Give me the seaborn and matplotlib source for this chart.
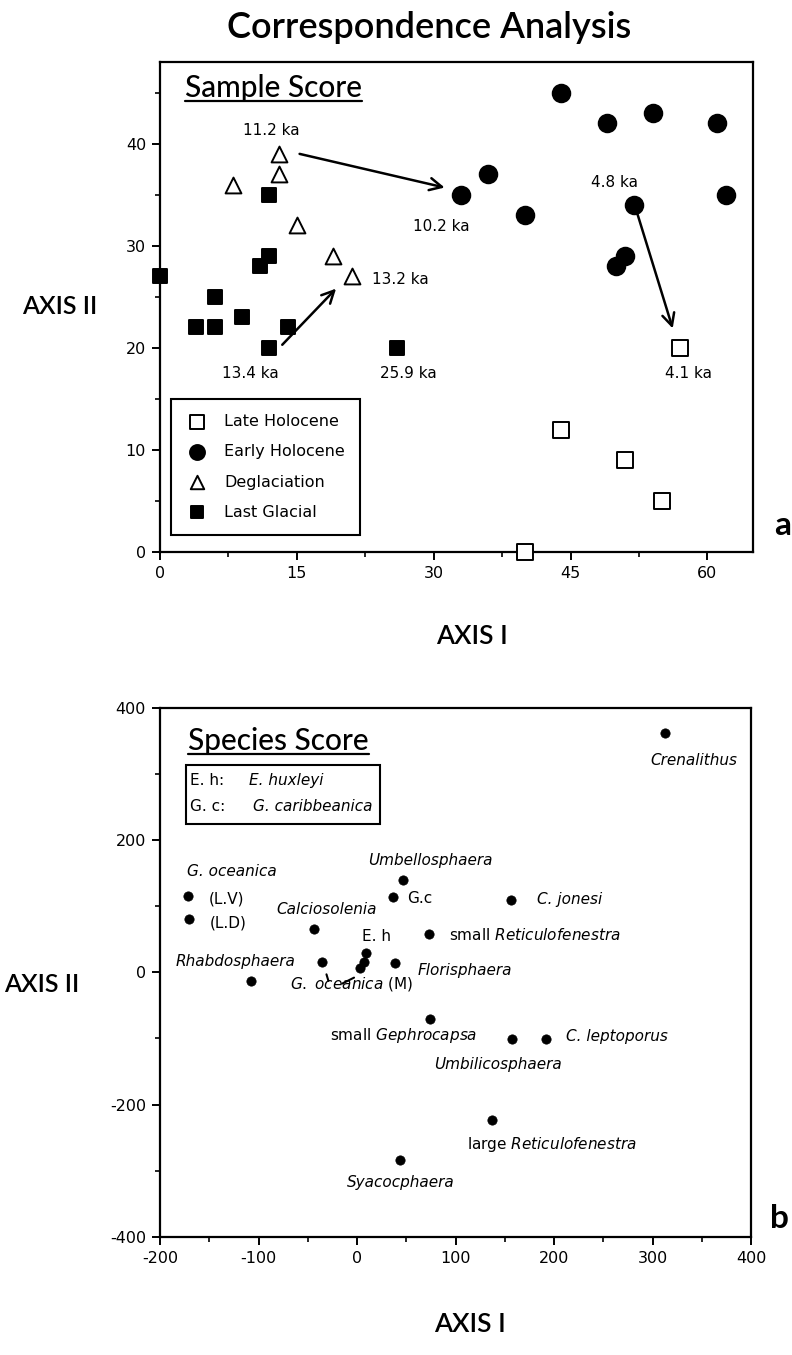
import matplotlib
matplotlib.use("Agg")
import matplotlib.pyplot as plt
import matplotlib.patches as mpatches
import seaborn as sns
import pandas as pd
from matplotlib.ticker import MultipleLocator

sns.set_style("ticks")
plt.rcParams["font.family"] = ["DejaVu Sans"]
plt.rcParams["mathtext.fontset"] = "dejavusans"
plt.rcParams["axes.unicode_minus"] = False
for k in ("text.color", "axes.labelcolor", "xtick.color", "ytick.color", "axes.edgecolor"):
    plt.rcParams[k] = "black"

# ---------------- Panel a data: sample scores ----------------
late_x = [57, 44, 51, 55, 40]
late_y = [20, 12, 9, 5, 0]
early_x = [33, 36, 40, 44, 49, 54, 61, 52, 62, 51, 50]
early_y = [35, 37, 33, 45, 42, 43, 42, 34, 35, 29, 28]
degl_x = [13, 13, 8, 15, 19, 21]
degl_y = [39, 37, 36, 32, 29, 27]
glac_x = [12, 12, 11, 0, 6, 9, 4, 6, 14, 12, 26]
glac_y = [35, 29, 28, 27, 25, 23, 22, 22, 22, 20, 20]
group_names = ["Late Holocene", "Early Holocene", "Deglaciation", "Last Glacial"]

# ---------------- Panel b data: species scores ----------------
species = ["Crenalithus", "G. oceanica (L.V)", "G. oceanica (L.D)", "Calciosolenia",
           "Rhabdosphaera", "G. oceanica (M) 1", "G. oceanica (M) 2", "G. oceanica (M) 3",
           "E. huxleyi", "Umbellosphaera", "G. caribbeanica", "C. jonesi",
           "small Reticulofenestra", "Florisphaera", "small Gephrocapsa",
           "Umbilicosphaera", "C. leptoporus", "large Reticulofenestra", "Syacocphaera"]
sp_x = [313, -172, -171, -44, -108, -36, 3, 7, 9, 47, 37, 156, 73, 39, 74, 157, 192, 137, 44]
sp_y = [362, 116, 80, 65, -13, 15, 6, 15, 29, 140, 114, 110, 58, 14, -70, -101, -101, -224, -284]

W, H = 792, 1355
fig = plt.figure(figsize=(W / 100, H / 100), dpi=100)
fig.patch.set_facecolor("white")

ax_a = fig.add_axes([160 / W, 1 - 552 / H, 593 / W, 490 / H])
ax_b = fig.add_axes([160 / W, 1 - 1236.7 / H, 591 / W, 528.7 / H])

# ---------------- Panel a ----------------
df_a = pd.DataFrame({
    "x": late_x + early_x + degl_x + glac_x,
    "y": late_y + early_y + degl_y + glac_y,
    "group": ([group_names[0]] * len(late_x) + [group_names[1]] * len(early_x)
              + [group_names[2]] * len(degl_x) + [group_names[3]] * len(glac_x)),
})
styles = {
    "Late Holocene": dict(marker="s", facecolor="white", s=125),
    "Early Holocene": dict(marker="o", facecolor="black", s=160),
    "Deglaciation": dict(marker="^", facecolor="white", s=130),
    "Last Glacial": dict(marker="s", facecolor="black", s=95),
}
for g in group_names:
    st = styles[g]
    sub = df_a[df_a["group"] == g]
    sns.scatterplot(data=sub, x="x", y="y", marker=st["marker"], s=st["s"],
                    facecolor=st["facecolor"], edgecolor="black", linewidth=1.4,
                    label=g, ax=ax_a, zorder=3, clip_on=False)

ax_a.set_xlim(0, 65)
ax_a.set_ylim(0, 48)
ax_a.xaxis.set_major_locator(MultipleLocator(15))
ax_a.xaxis.set_minor_locator(MultipleLocator(7.5))
ax_a.yaxis.set_major_locator(MultipleLocator(10))
ax_a.yaxis.set_minor_locator(MultipleLocator(5))
ax_a.set_xlabel("")
ax_a.set_ylabel("")

leg = ax_a.legend(loc="lower left", bbox_to_anchor=(0.0185, 0.035), borderaxespad=0,
                  frameon=True, fancybox=False, framealpha=1, edgecolor="black",
                  fontsize=11.5, labelspacing=0.95, handlelength=1.3, handletextpad=1.1,
                  borderpad=0.95, markerscale=0.85)
leg.get_frame().set_linewidth(1.5)
for txt in leg.get_texts():
    txt.set_color("black")

ann_kw = dict(fontsize=11, color="black")
ax_a.text(12.2, 41.3, "11.2 ka", ha="center", va="center", **ann_kw)
ax_a.text(30.8, 31.9, "10.2 ka", ha="center", va="center", **ann_kw)
ax_a.text(23.2, 26.7, "13.2 ka", ha="left", va="center", **ann_kw)
ax_a.text(9.9, 17.5, "13.4 ka", ha="center", va="center", **ann_kw)
ax_a.text(27.2, 17.5, "25.9 ka", ha="center", va="center", **ann_kw)
ax_a.text(49.8, 36.2, "4.8 ka", ha="center", va="center", **ann_kw)
ax_a.text(57.9, 17.5, "4.1 ka", ha="center", va="center", **ann_kw)
arr = dict(arrowstyle="->", lw=1.8, color="black", mutation_scale=22, shrinkA=0, shrinkB=0)
ax_a.annotate("", xy=(31.2, 35.7), xytext=(15.3, 39.0), arrowprops=arr)
ax_a.annotate("", xy=(19.3, 25.8), xytext=(13.4, 20.3), arrowprops=arr)
ax_a.annotate("", xy=(56.2, 21.9), xytext=(52.2, 33.5), arrowprops=arr)

hfont = ["Lato", "DejaVu Sans"]
t_sample = ax_a.text(2.7, 45.5, "Sample Score", ha="left", va="center",
                     fontsize=21.5, family=hfont, fontweight="medium")

# ---------------- Panel b ----------------
df_b = pd.DataFrame({"species": species, "x": sp_x, "y": sp_y})
sns.scatterplot(data=df_b, x="x", y="y", color="black", s=45, edgecolor="black",
                linewidth=0.5, ax=ax_b, zorder=3, legend=False)
ax_b.set_xlim(-200, 400)
ax_b.set_ylim(-400, 400)
ax_b.xaxis.set_major_locator(MultipleLocator(100))
ax_b.xaxis.set_minor_locator(MultipleLocator(50))
ax_b.yaxis.set_major_locator(MultipleLocator(200))
ax_b.yaxis.set_minor_locator(MultipleLocator(100))
ax_b.set_xlabel("")
ax_b.set_ylabel("")

lab = dict(fontsize=11, color="black", va="center")
ax_b.text(342, 321, "Crenalithus", ha="center", style="italic", **lab)
ax_b.text(-173, 152, "G. oceanica", ha="left", style="italic", **lab)
ax_b.text(-151, 111, "(L.V)", ha="left", **lab)
ax_b.text(-149, 74, "(L.D)", ha="left", **lab)
ax_b.text(-31, 95, "Calciosolenia", ha="center", style="italic", **lab)
ax_b.text(-184, 17, "Rhabdosphaera", ha="left", style="italic", **lab)
ax_b.text(-5, -18, r"$\mathit{G.\ oceanica}$ (M)", ha="center", **lab)
ax_b.plot([-31, -29], [-3, -13], color="black", lw=1.5)
ax_b.plot([-15, -3], [-17, -8], color="black", lw=1.5)
ax_b.text(5, 54, "E. h", ha="left", **lab)
ax_b.text(74, 169, "Umbellosphaera", ha="center", style="italic", **lab)
ax_b.text(51, 111, "G.c", ha="left", **lab)
ax_b.text(93, 57, r"small $\mathit{Reticulofenestra}$", ha="left", **lab)
ax_b.text(183, 110, "C. jonesi", ha="left", style="italic", **lab)
ax_b.text(62, 3, "Florisphaera", ha="left", style="italic", **lab)
ax_b.text(-27, -96, r"small $\mathit{Gephrocapsa}$", ha="left", **lab)
ax_b.text(78, -139, "Umbilicosphaera", ha="left", style="italic", **lab)
ax_b.text(212, -97, "C. leptoporus", ha="left", style="italic", **lab)
ax_b.text(112, -260, r"large $\mathit{Reticulofenestra}$", ha="left", **lab)
ax_b.text(44, -318, "Syacocphaera", ha="center", style="italic", **lab)

t_species = ax_b.text(-171.5, 350, "Species Score", ha="left", va="center",
                      fontsize=21.5, family=hfont, fontweight="medium")
ax_b.add_patch(mpatches.Rectangle((-173.7, 224.5), 197.4, 88.5, fill=False,
                                  lw=1.5, edgecolor="black", zorder=2))
ax_b.text(-169.5, 291, "E. h:", ha="left", **lab)
ax_b.text(-110, 291, "E. huxleyi", ha="left", style="italic", **lab)
ax_b.text(-169.5, 250.7, "G. c:", ha="left", **lab)
ax_b.text(-105.8, 250.7, "G. caribbeanica", ha="left", style="italic", **lab)

for ax in (ax_a, ax_b):
    for sp in ax.spines.values():
        sp.set_visible(True)
        sp.set_linewidth(1.6)
        sp.set_color("black")
    ax.tick_params(which="major", direction="out", length=6, width=1.4,
                   labelsize=11.5, colors="black", pad=4)
    ax.tick_params(which="minor", direction="out", length=3.5, width=1.2, colors="black")
    ax.set_facecolor("white")
    ax.grid(False)

# ---------------- Figure-level text ----------------
fig.text(429 / W, 1 - 27 / H, "Correspondence Analysis", ha="center", va="center",
         fontsize=26, family=hfont, fontweight="semibold", color="black")
fig.text(60 / W, 1 - 306 / H, "AXIS II", ha="center", va="center", fontsize=18, family=hfont,
         fontweight="semibold", color="black")
fig.text(472 / W, 1 - 636 / H, "AXIS I", ha="center", va="center", fontsize=19, family=hfont,
         fontweight="semibold", color="black")
fig.text(42 / W, 1 - 985 / H, "AXIS II", ha="center", va="center", fontsize=18, family=hfont,
         fontweight="semibold", color="black")
fig.text(470 / W, 1 - 1325 / H, "AXIS I", ha="center", va="center", fontsize=19, family=hfont,
         fontweight="semibold", color="black")
fig.text(783 / W, 1 - 525 / H, "a", ha="center", va="center", fontsize=24, fontweight="bold",
         family=hfont, color="black")
fig.text(779 / W, 1 - 1218 / H, "b", ha="center", va="center", fontsize=24, fontweight="bold",
         family=hfont, color="black")

# underline the panel headers
fig.canvas.draw()
renderer = fig.canvas.get_renderer()
for t in (t_sample, t_species):
    bb = t.get_window_extent(renderer=renderer)
    y0 = bb.y0 + 1
    fig.add_artist(plt.Line2D([bb.x0 / W, bb.x1 / W], [y0 / H, y0 / H],
                              transform=fig.transFigure, color="black", lw=1.6))

fig.savefig("out.png", dpi=100, facecolor="white")
